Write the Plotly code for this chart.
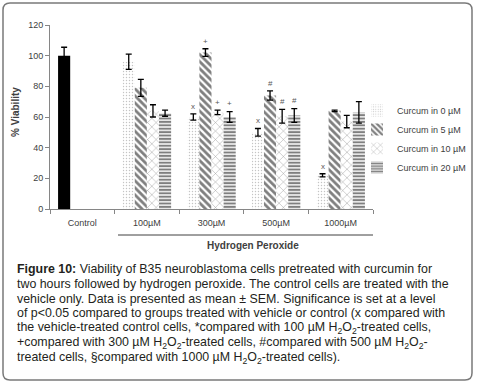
import plotly.graph_objects as go

categories = ["Control", "100µM", "300µM", "500µM", "1000µM"]
series_names = ["Curcum in 0 µM", "Curcum in 5 µM", "Curcum in 10 µM", "Curcum in 20 µM"]
control_value = [100]
control_error = [5.5]
# values per series for the hydrogen peroxide categories
h2o2_categories = categories[1:]
values = [
    [96, 60, 50, 22],
    [79, 102, 74, 64],
    [64, 63, 60.5, 57],
    [62.5, 60, 61, 63],
]
errors = [
    [5, 2, 2.5, 1],
    [5.5, 2.5, 3, 0.5],
    [4, 1.5, 4.5, 4],
    [2, 3.5, 4.5, 7],
]
# significance marks: (h2o2 category index, series index, label)
marks = [
    (1, 0, "x"), (1, 1, "+"), (1, 2, "+"), (1, 3, "+"),
    (2, 0, "x"), (2, 1, "#"), (2, 2, "#"), (2, 3, "#"),
    (3, 0, "x"),
]
y_ticks = [0, 20, 40, 60, 80, 100, 120]

caption_lines = [
    "<b>Figure 10:</b> Viability of B35 neuroblastoma cells pretreated with curcumin for",
    "two hours followed by hydrogen peroxide. The control cells are treated with the",
    "vehicle only. Data is presented as mean ± SEM. Significance is set at a level",
    "of p<0.05 compared to groups treated with vehicle or control (x compared with",
    "the vehicle-treated control cells, *compared with 100 µM H<sub>2</sub>O<sub>2</sub>-treated cells,",
    "+compared with 300 µM H<sub>2</sub>O<sub>2</sub>-treated cells, #compared with 500 µM H<sub>2</sub>O<sub>2</sub>-",
    "treated cells, §compared with 1000 µM H<sub>2</sub>O<sub>2</sub>-treated cells).",
]

patterns = [
    dict(shape=".", size=3, solidity=0.18, fg="#8a8a8a"),
    dict(shape="\\", size=5, solidity=0.55, fg="black"),
    dict(shape="x", size=6, solidity=0.15, fg="#333333"),
    dict(shape="-", size=3.4, solidity=0.6, fg="black"),
]

W, H = 483, 384
L, R, T, B = 50, 110, 25, 175
PW, PH = W - L - R, H - T - B
BARGAP = 0.25

def px_x(p):
    return (p - L) / PW

def px_y(p):
    return (H - B - p) / PH

fig = go.Figure()
fig.add_trace(go.Bar(
    name="Control", x=categories[:1], y=control_value, offsetgroup="g0",
    showlegend=False, marker=dict(color="black", line=dict(width=0)),
    error_y=dict(type="data", array=control_error, visible=True,
                 color="black", thickness=1.3, width=3),
))
for i, name in enumerate(series_names):
    fig.add_trace(go.Bar(
        name=name,
        x=h2o2_categories,
        y=values[i],
        offsetgroup=f"g{i}",
        marker=dict(
            color="white",
            line=dict(width=0),
            pattern=dict(shape=patterns[i]["shape"], size=patterns[i]["size"],
                         solidity=patterns[i]["solidity"],
                         fgcolor=patterns[i]["fg"], bgcolor="white", fillmode="overlay"),
        ),
        error_y=dict(type="data", array=errors[i], visible=True,
                     color="black", thickness=1.3, width=3),
    ))

bar_px = PW / 5 * (1 - BARGAP) / 4
annotations = []
for ci, si, lab in marks:
    top = values[si][ci] + errors[si][ci]
    annotations.append(dict(
        x=h2o2_categories[ci], y=top + 5, xref="x", yref="y",
        xshift=(si - 1.5) * bar_px, text=lab, showarrow=False,
        font=dict(size=8, color="#595959", family="Liberation Sans"),
        xanchor="center", yanchor="middle",
    ))

annotations.append(dict(
    x=px_x(15), y=px_y(112), xref="paper", yref="paper", text="<b>% Viability</b>",
    textangle=-90, showarrow=False, xanchor="center", yanchor="middle",
    font=dict(size=10, color="#404040", family="Liberation Sans"),
))
annotations.append(dict(
    x=px_x(253), y=px_y(245), xref="paper", yref="paper", text="<b>Hydrogen Peroxide</b>",
    showarrow=False, xanchor="center", yanchor="middle",
    font=dict(size=10, color="#404040", family="Liberation Sans"),
))

line_y0 = 269
for k, line in enumerate(caption_lines):
    annotations.append(dict(
        x=px_x(15), y=px_y(line_y0 + k * 14.8), xref="paper", yref="paper",
        text=line, showarrow=False, xanchor="left", yanchor="middle", align="left",
        font=dict(size=12.4, color="#231f20", family="Liberation Sans"),
    ))

# rounded frame
x0, x1, y0, y1, r = 3, 472, 3, 380, 7
rx, ry = r / PW, r / PH
X0, X1, Y0, Y1 = px_x(x0), px_x(x1), px_y(y0), px_y(y1)
path = (f"M {X0+rx},{Y0} L {X1-rx},{Y0} Q {X1},{Y0} {X1},{Y0-ry} "
        f"L {X1},{Y1+ry} Q {X1},{Y1} {X1-rx},{Y1} "
        f"L {X0+rx},{Y1} Q {X0},{Y1} {X0},{Y1+ry} "
        f"L {X0},{Y0-ry} Q {X0},{Y0} {X0+rx},{Y0} Z")
shapes = [
    dict(type="path", path=path, xref="paper", yref="paper",
         line=dict(color="#7a7a7a", width=1.5)),
    dict(type="line", xref="paper", yref="paper", x0=px_x(118), x1=px_x(373),
         y0=px_y(235), y1=px_y(235), line=dict(color="#404040", width=1)),
]

fig.update_layout(
    width=W, height=H,
    margin=dict(l=L, r=R, t=T, b=B),
    paper_bgcolor="white", plot_bgcolor="white",
    barmode="group", bargap=BARGAP, bargroupgap=0,
    showlegend=True,
    legend=dict(x=px_x(357), y=px_y(96), xanchor="left", yanchor="top",
                font=dict(size=9, color="#404040", family="Liberation Sans"),
                tracegroupgap=0, itemwidth=30, bgcolor="rgba(0,0,0,0)"),
    annotations=annotations,
    shapes=shapes,
    font=dict(family="Liberation Sans"),
)
fig.update_xaxes(
    range=[-0.5, 4.5], categoryorder="array", categoryarray=categories,
    showline=True, linecolor="#868686", linewidth=1,
    ticks="outside", ticklen=4, tickcolor="#868686", tickson="boundaries",
    ticklabelstandoff=5,
    tickfont=dict(size=9, color="#404040"), showgrid=False,
)
fig.update_yaxes(
    range=[0, 120], tickvals=y_ticks, showline=True, linecolor="#868686", linewidth=1,
    ticks="outside", ticklen=4, tickcolor="#868686",
    tickfont=dict(size=9, color="#404040"), showgrid=False, zeroline=False,
)

fig.write_html("out.html", config={"displayModeBar": False},
               post_script="document.body.style.margin='0';")
